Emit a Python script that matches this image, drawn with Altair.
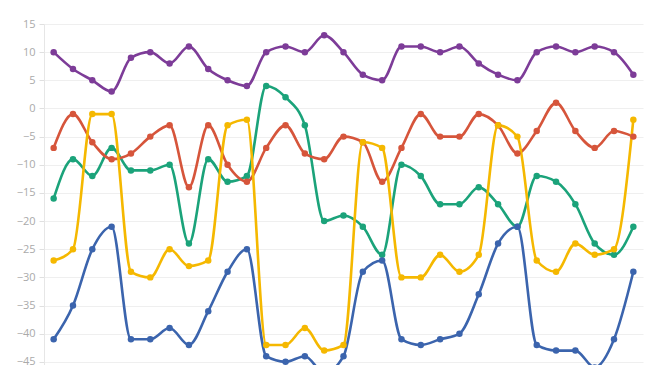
import altair as alt
import pandas as pd

days = list(range(1, 32))
series_names = ["Series A", "Series B", "Series C", "Series D", "Series E"]
colors = ["#1ba37a", "#d6553b", "#3b64ad", "#f5b800", "#7d3c98"]

green = [-16, -9, -12, -7, -11, -11, -10, -24, -9, -13, -12, 4, 2, -3, -20, -19,
         -21, -26, -10, -12, -17, -17, -14, -17, -21, -12, -13, -17, -24, -26, -21]
red = [-7, -1, -6, -9, -8, -5, -3, -14, -3, -10, -13, -7, -3, -8, -9, -5,
       -6, -13, -7, -1, -5, -5, -1, -3, -8, -4, 1, -4, -7, -4, -5]
blue = [-41, -35, -25, -21, -41, -41, -39, -42, -36, -29, -25, -44, -45, -44, -47, -44,
        -29, -27, -41, -42, -41, -40, -33, -24, -21, -42, -43, -43, -46, -41, -29]
yellow = [-27, -25, -1, -1, -29, -30, -25, -28, -27, -3, -2, -42, -42, -39, -43, -42,
          -6, -7, -30, -30, -26, -29, -26, -3, -5, -27, -29, -24, -26, -25, -2]
purple = [10, 7, 5, 3, 9, 10, 8, 11, 7, 5, 4, 10, 11, 10, 13, 10,
          6, 5, 11, 11, 10, 11, 8, 6, 5, 10, 11, 10, 11, 10, 6]

y_ticks = list(range(-45, 16, 5))

rows = []
for name, vals in zip(series_names, [green, red, blue, yellow, purple]):
    for d, v in zip(days, vals):
        rows.append({"day": d, "value": v, "series": name})
df = pd.DataFrame(rows)

color = alt.Color("series:N", scale=alt.Scale(domain=series_names, range=colors), legend=None)
x = alt.X("day:O", scale=alt.Scale(type="point", padding=0.5), axis=None)
y = alt.Y("value:Q", scale=alt.Scale(domain=[-50, 15], nice=False, zero=False),
          axis=alt.Axis(title=None, values=y_ticks, labelColor="#aaaaaa", labelFontSize=11,
                        labelPadding=4, tickSize=5, tickColor="#e0e0e0", domainColor="#e6e6e6",
                        gridColor="#efefef", labelFont="Open Sans"))

base = alt.Chart(df).encode(x=x, y=y, color=color, detail="series:N")
lines = base.mark_line(interpolate="monotone", strokeWidth=2.6)
points = base.mark_circle(size=42, opacity=1)

chart = (lines + points).properties(
    width=599, height=366,
    autosize=alt.AutoSizeParams(type="none"),
    padding={"left": 36, "top": 16, "right": 9, "bottom": 10},
).configure_view(stroke=None)

chart.save("out.html", embed_options={"renderer": "svg", "actions": False})
